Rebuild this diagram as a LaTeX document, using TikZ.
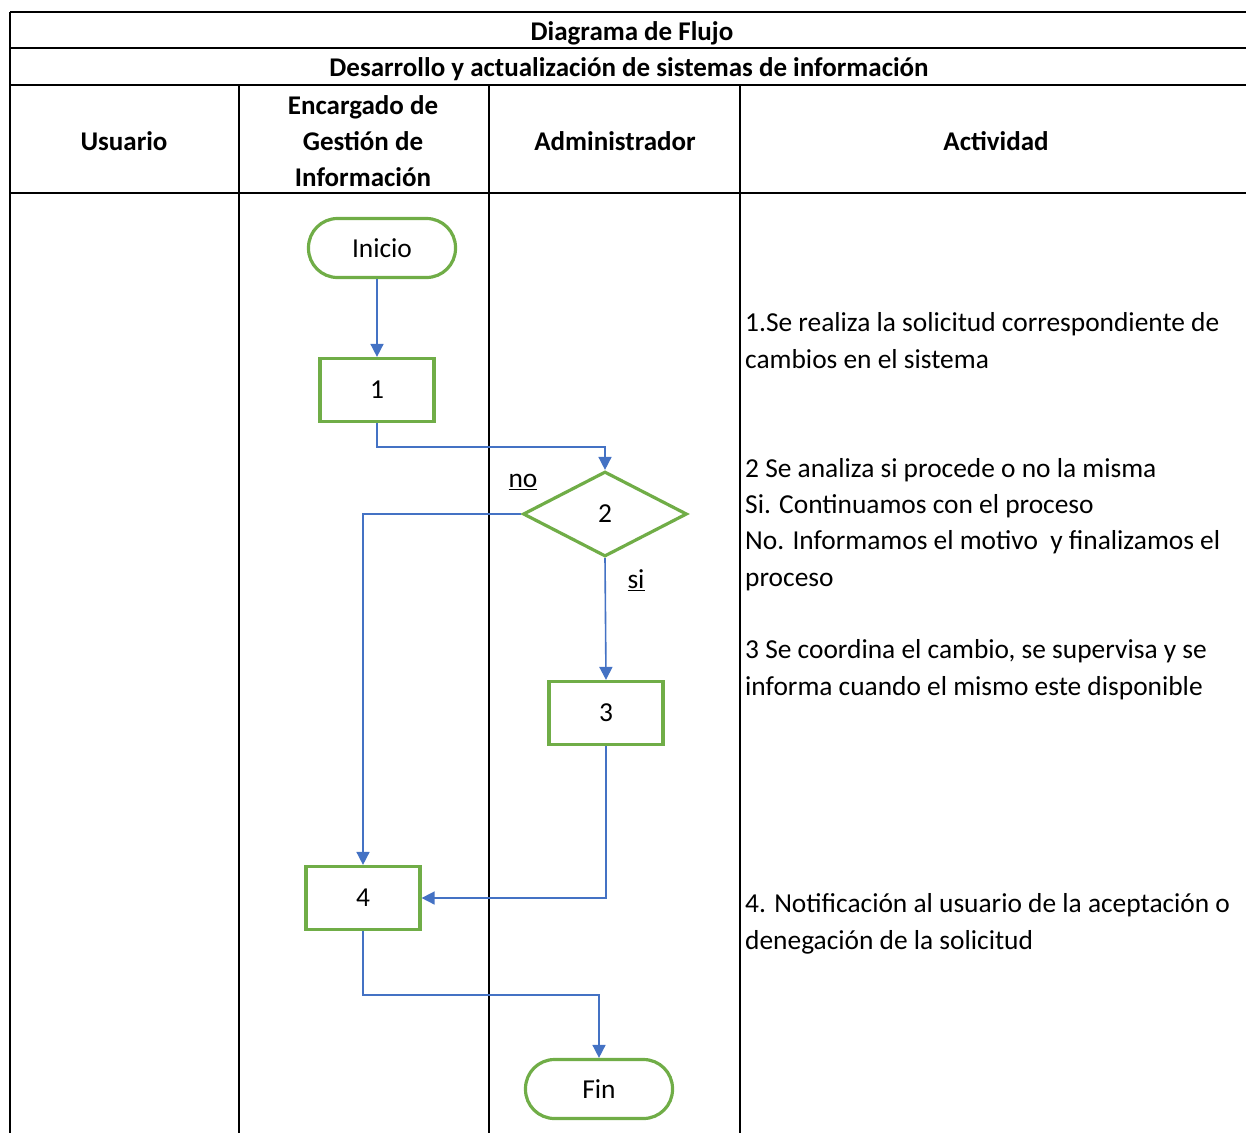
\documentclass[tikz,border=0pt]{standalone}
\usepackage{fontspec}
\setmainfont{Carlito}
\usetikzlibrary{shapes.geometric,arrows.meta}
\definecolor{flowgreen}{HTML}{70AD47}
\definecolor{flowblue}{HTML}{4472C4}
\begin{document}
\begin{tikzpicture}[x=1pt,y=-1pt,
  every node/.style={font=\fontsize{27.4}{36.3}\selectfont},
  rule/.style={line width=2pt,black},
  head/.style={font=\fontsize{27}{36.3}\selectfont\bfseries,align=center},
  procbox/.style={draw=flowgreen,line width=3.2pt,fill=white,
    minimum width=114pt,minimum height=63pt,inner sep=0pt},
  terminal/.style={draw=flowgreen,line width=3.2pt,fill=white,
    minimum width=147pt,minimum height=59pt,inner sep=0pt,rounded corners=29pt},
  decision/.style={draw=flowgreen,line width=3.2pt,fill=white,shape=diamond,
    minimum width=164pt,minimum height=85pt,inner sep=0pt},
  flow/.style={draw=flowblue,line width=1.6pt,-{Triangle[length=13pt,width=13pt]}},
  activity/.style={anchor=base west,align=left,inner sep=0pt}]

\useasboundingbox (0,0) rectangle (1246,1133);

% table grid
\draw[rule] (10,12) -- (1246,12);
\draw[rule] (10,48) -- (1246,48);
\draw[rule] (10,85) -- (1246,85);
\draw[rule] (10,193) -- (1246,193);
\draw[rule] (10,12) -- (10,1133);
\draw[rule] (239,85) -- (239,1133);
\draw[rule] (489,85) -- (489,1133);
\draw[rule] (740,85) -- (740,1133);

% headings
\node[head] (title) at (632,33) {Diagrama de Flujo};
\node[head] (subtitle) at (629,69) {Desarrollo y actualización de sistemas de información};
\node[head] (hUsuario) at (124,141) {Usuario};
\node[head] (hEncargado) at (363,141) {Encargado de\\Gestión de\\Información};
\node[head] (hAdmin) at (615,141) {Administrador};
\node[head] (hActividad) at (996,141) {Actividad};

% flow chart
\node[terminal] (inicio) at (382,248) {Inicio};
\node[procbox] (b1) at (377,390) {1};
\node[decision] (d2) at (605,514) {2};
\node[procbox] (b3) at (606,713) {3};
\node[procbox] (b4) at (363,898) {4};
\node[terminal] (fin) at (599,1089) {Fin};

\draw[flow] (b1.north |- inicio.south) -- (b1.north);
\draw[flow] (b1.south) -- ++(0,24) -| (d2.north);
\draw[flow] (d2.west) -| (b4.north);
\draw[flow] (d2.south) -- (b3.north);
\draw[flow] (b3.south) |- (b4.east);
\draw[flow] (b4.south) -- ++(0,64) -| (fin.north);

\node (lno) at (523,482) {\underline{no}};
\node (lsi) at (636,580) {\underline{si}};

% activity descriptions (anchored at the baseline of the last line)
\node[activity] (a1) at (745,368) {1.Se realiza la solicitud correspondiente de\\cambios en el sistema};
\node[activity] (a2) at (745,586) {2 Se analiza si procede o no la misma\\Si. Continuamos con el proceso\\No. Informamos el motivo \ y finalizamos el\\proceso};
\node[activity] (a3) at (745,695) {3 Se coordina el cambio, se supervisa y se\\informa cuando el mismo este disponible};
\node[activity] (a4) at (745,949) {4. Notificación al usuario de la aceptación o\\denegación de la solicitud};
\end{tikzpicture}
\end{document}
